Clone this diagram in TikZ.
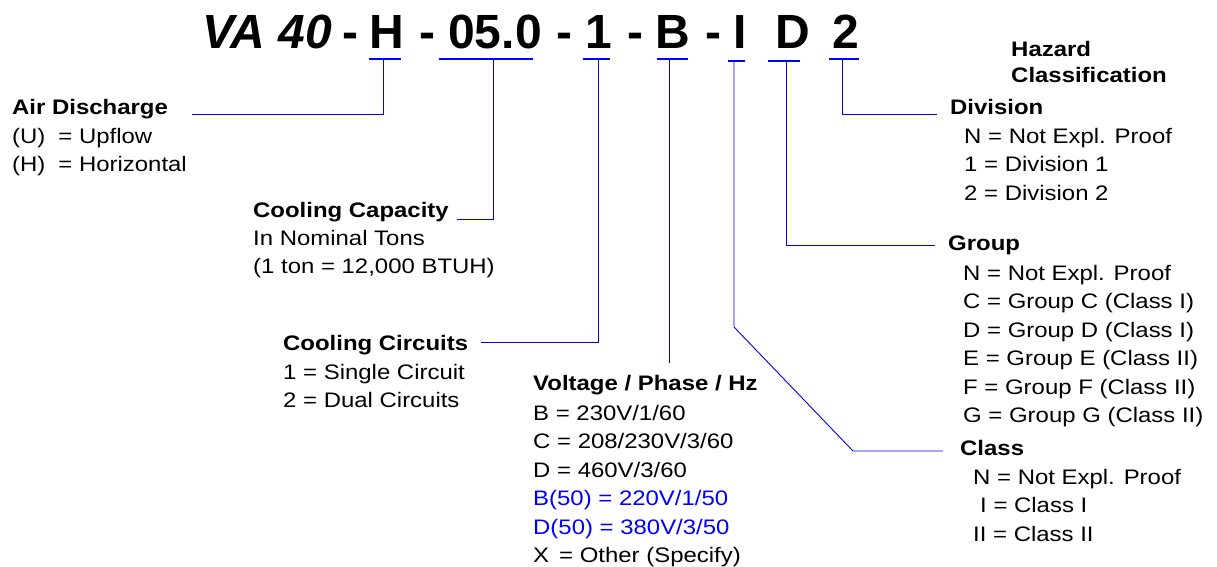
\documentclass[tikz,border=0pt]{standalone}
\usepackage{fontspec}
\setmainfont{Liberation Sans}[FakeStretch=1.14]
\newfontfamily\codefont{Liberation Sans}
\usetikzlibrary{calc}

% lines of a legend block, baseline on the first line
\newcommand{\legendlines}[1]{\begin{tabular}[t]{@{}l@{}}#1\end{tabular}}

\begin{document}
\begin{tikzpicture}[
    x=1pt, y=-1pt,
    font=\fontsize{21}{28.5}\selectfont,
    code/.style={anchor=base, inner sep=0pt,
                 font=\codefont\fontsize{48}{50}\selectfont\bfseries},
    head/.style={anchor=base west, inner sep=0pt,
                 font=\fontsize{21}{28.5}\selectfont\bfseries},
    body/.style={anchor=base west, inner sep=0pt},
    bar/.style={blue, line width=2.2pt},
    lead/.style={blue, line width=0.9pt}
]
\useasboundingbox (0,0) rectangle (1217,567);

% Model number
\node[code] (cVA) at (267,49) {\itshape VA 40};
\node[code] (m1)  at (350,49) {-};
\node[code] (cH)  at (387,49) {H};
\node[code] (m2)  at (427.5,49) {-};
\node[code] (c05) at (495,49) {05.0};
\node[code] (m3)  at (564.5,49) {-};
\node[code] (c1)  at (599,49) {1};
\node[code] (m4)  at (635,49) {-};
\node[code] (cB)  at (673,49) {B};
\node[code] (m5)  at (713.5,49) {-};
\node[code] (cI)  at (740,49) {I};
\node[code] (cD)  at (793,49) {D};
\node[code] (c2)  at (846,49) {2};

% Underline bars
\coordinate (sH)  at (383,58.7);
\coordinate (s05) at (493,58.7);
\coordinate (s1)  at (598,58.7);
\coordinate (sB)  at (669,58.7);
\coordinate (sI)  at (734,61);
\coordinate (sD)  at (786,61);
\coordinate (s2)  at (842,58.7);
\draw[bar] ([xshift=-14]sH) -- ([xshift=18]sH);
\draw[bar] ([xshift=-54]s05) -- ([xshift=40]s05);
\draw[bar] ([xshift=-15]s1) -- ([xshift=12]s1);
\draw[bar] ([xshift=-12]sB) -- ([xshift=19]sB);
\draw[bar] ([xshift=-6]sI) -- ([xshift=11]sI);
\draw[bar] ([xshift=-18]sD) -- ([xshift=14]sD);
\draw[bar] ([xshift=-13]s2) -- ([xshift=17]s2);

% Left side
\node[head] (airHead) at (12,115) {Air Discharge};
\node[body] (airBody) at (12,143) {\legendlines{(U)\hspace{13pt}= Upflow\\
    (H)\hspace{13pt}= Horizontal}};

\node[head] (capHead) at (253,217) {Cooling Capacity};
\node[body] (capBody) at (253,245) {\legendlines{In Nominal Tons\\
    (1 ton = 12,000 BTUH)}};

\node[head] (circHead) at (283,350) {Cooling Circuits};
\node[body] (circBody) at (283,379) {\legendlines{1 = Single Circuit\\
    2 = Dual Circuits}};

\node[head] (voltHead) at (533,390) {Voltage / Phase / Hz};
\node[body] (voltBody) at (533,420) {\legendlines{B = 230V/1/60\\
    C = 208/230V/3/60\\
    D = 460V/3/60\\
    \textcolor{blue}{B(50) = 220V/1/50}\\
    \textcolor{blue}{D(50) = 380V/3/50}\\
    X\hspace{10pt}= Other (Specify)}};

% Right side
\node[head, font=\fontsize{21}{26}\selectfont\bfseries]
    (hazHead) at (1011,57) {\legendlines{Hazard\\Classification}};

\node[head] (divHead) at (950,114) {Division};
\node[body] (divBody) at (964,143) {\legendlines{N = Not Expl. Proof\\
    1 = Division 1\\
    2 = Division 2}};

\node[head] (grpHead) at (948,250) {Group};
\node[body] (grpBody) at (963,280) {\legendlines{N = Not Expl. Proof\\
    C = Group C (Class I)\\
    D = Group D (Class I)\\
    E = Group E (Class II)\\
    F = Group F (Class II)\\
    G = Group G (Class II)}};

\node[head] (clsHead) at (960,455) {Class};
\node[body] (clsBody) at (973,484) {\legendlines{N = Not Expl. Proof\\
    \hspace{7pt}I = Class I\\
    II = Class II}};

% Leads
\draw[lead] (sH) |- ($(airHead.base east)+(24,-1)$);
\draw[lead] (s05) |- ($(capHead.base east)+(8,2)$);
\draw[lead] (s1) |- ($(circHead.base east)+(13,-8)$);
\draw[lead] (sB) -- ($(sB |- voltHead.north)+(0,-12)$);
\draw[lead] (sI) -- ++(0,266) -- ++(119,124)
    -- ($(clsHead.base west)+(-17,-4)$);
\draw[lead] (sD) |- ($(grpHead.base west)+(-13,-5)$);
\draw[lead] (s2) |- ($(divHead.base west)+(-13,0)$);

\end{tikzpicture}
\end{document}
